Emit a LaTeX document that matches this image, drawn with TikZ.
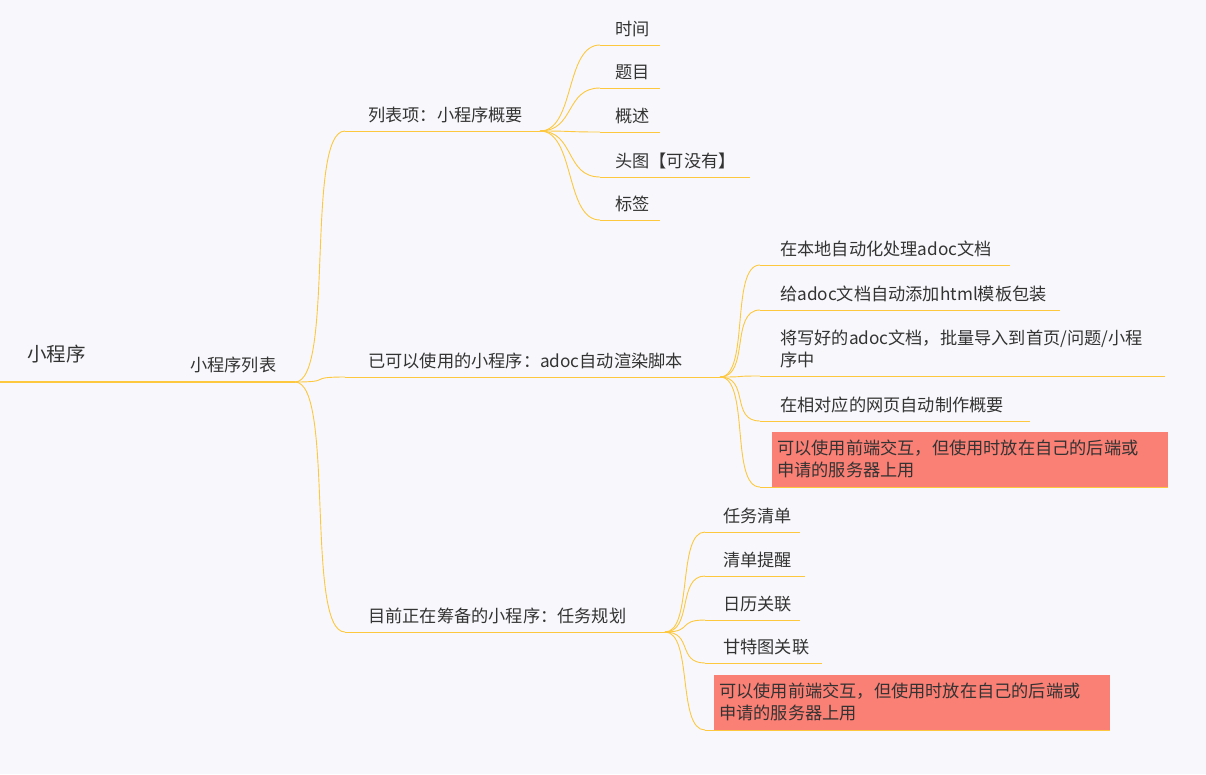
\documentclass[tikz,border=0pt]{standalone}
\usepackage{fontspec}
\setmainfont{Noto Sans CJK SC}
\usetikzlibrary{positioning}
\definecolor{bgpaper}{HTML}{F8F8FC}
\definecolor{branchline}{HTML}{FDC83E}
\definecolor{bodytext}{HTML}{333333}
\definecolor{alertred}{HTML}{FA7F74}
\tikzset{
  leaf/.style={anchor=base west, inner sep=0pt, font=\fontsize{17.2}{22}\selectfont, text=bodytext},
  alertbox/.style={anchor=south west, fill=alertred, inner sep=5pt, align=left, text width=386pt,
    minimum height=55pt, font=\fontsize{17.2}{22}\selectfont, text=bodytext},
  link/.style={branchline, line width=0.9pt},
}
% name, line start x, line end x, line y, text x, text
\newcommand{\leafnode}[6]{%
  \coordinate (#1) at (#2,#4);
  \node[leaf] (#1t) at (#5,#4-10) {#6};
  \draw[link] (#1) -- (#3,#4);
}
\begin{document}
\begin{tikzpicture}[x=1pt,y=-1pt]
    \fill[bgpaper] (0,0) rectangle (1206,774);
    \useasboundingbox (0,0) rectangle (1206,774);

    % Root
    \coordinate (root) at (295,382);
    \node[leaf, font=\fontsize{19.5}{23}\selectfont] (roott) at (27,361) {小程序};
    \node[leaf] (listt) at (190,371) {小程序列表};
    \draw[link, line width=1.2pt] (0,382) -- (root);

    % Branches
    \leafnode{bA}{345}{540}{131}{368}{列表项：小程序概要}
    \leafnode{bB}{345}{720}{377}{368}{已可以使用的小程序：adoc自动渲染脚本}
    \leafnode{bC}{345}{665}{632}{368}{目前正在筹备的小程序：任务规划}
    \foreach \b in {bA,bB,bC}
        \draw[link] (root) .. controls +(40,0) and +(-40,0) .. (\b);

    % Branch A leaves
    \coordinate (bAend) at (540,131);
    \leafnode{a1}{600}{660}{45}{615}{时间}
    \leafnode{a2}{600}{660}{88}{615}{题目}
    \leafnode{a3}{600}{660}{132}{615}{概述}
    \leafnode{a4}{600}{750}{177}{615}{头图【可没有】}
    \leafnode{a5}{600}{660}{220}{615}{标签}
    \foreach \l in {a1,a2,a3,a4,a5}
        \draw[link] (bAend) .. controls +(35,0) and +(-35,0) .. (\l);

    % Branch B leaves
    \coordinate (bBend) at (720,377);
    \leafnode{b1}{760}{1010}{265}{780}{在本地自动化处理adoc文档}
    \leafnode{b2}{760}{1060}{310}{780}{给adoc文档自动添加html模板包装}
    \leafnode{b3}{760}{1165}{376}{780}{序中}
    \node[leaf] (b3u) at (780,344) {将写好的adoc文档，批量导入到首页/问题/小程};
    \leafnode{b4}{760}{1030}{421}{780}{在相对应的网页自动制作概要}
    \coordinate (b5) at (760,487);
    \node[alertbox] (b5t) at (772,487) {可以使用前端交互，但使用时放在自己的后端或\\申请的服务器上用};
    \draw[link] (b5) -- (1168,487);
    \foreach \l in {b1,b2,b3,b4,b5}
        \draw[link] (bBend) .. controls +(30,0) and +(-30,0) .. (\l);

    % Branch C leaves
    \coordinate (bCend) at (665,632);
    \leafnode{c1}{705}{800}{532}{723}{任务清单}
    \leafnode{c2}{705}{805}{576}{723}{清单提醒}
    \leafnode{c3}{705}{800}{620}{723}{日历关联}
    \leafnode{c4}{705}{822}{663}{723}{甘特图关联}
    \coordinate (c5) at (705,730);
    \node[alertbox] (c5t) at (714,730) {可以使用前端交互，但使用时放在自己的后端或\\申请的服务器上用};
    \draw[link] (c5) -- (1110,730);
    \foreach \l in {c1,c2,c3,c4,c5}
        \draw[link] (bCend) .. controls +(28,0) and +(-28,0) .. (\l);
\end{tikzpicture}
\end{document}
